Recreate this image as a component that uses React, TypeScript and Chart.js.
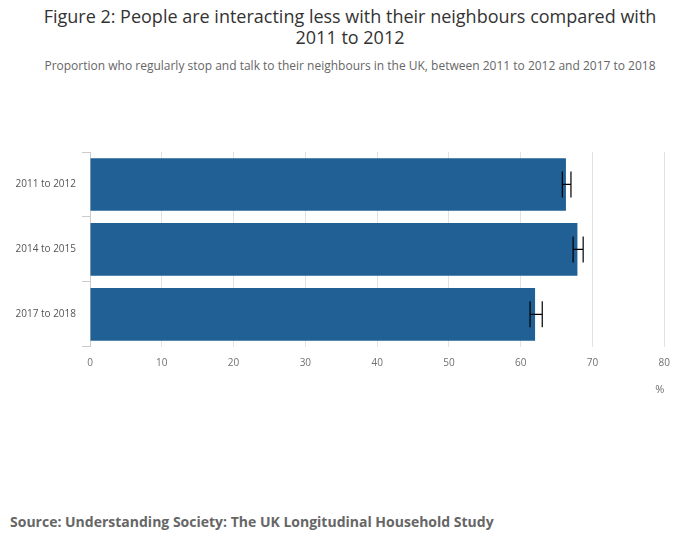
import React, { useEffect, useRef } from "react";
import { Chart, registerables } from "chart.js";
Chart.register(...registerables);

const categories = ["2011 to 2012", "2014 to 2015", "2017 to 2018"];
const values = [66.3, 67.9, 62.0];
const lower = [65.8, 67.3, 61.3];
const upper = [67.0, 68.7, 63.0];
const xTicks = [0, 10, 20, 30, 40, 50, 60, 70, 80];

const errorBars = {
  id: "errorBars",
  afterDatasetsDraw(chart: any) {
    const { ctx, scales } = chart;
    const x = scales.x, y = scales.y;
    ctx.save();
    ctx.strokeStyle = "#000";
    ctx.lineWidth = 1.2;
    categories.forEach((_, i) => {
      const cy = y.getPixelForValue(i);
      const x1 = x.getPixelForValue(lower[i]);
      const x2 = x.getPixelForValue(upper[i]);
      ctx.beginPath();
      ctx.moveTo(x1, cy); ctx.lineTo(x2, cy);
      ctx.moveTo(x1, cy - 13); ctx.lineTo(x1, cy + 13);
      ctx.moveTo(x2, cy - 13); ctx.lineTo(x2, cy + 13);
      ctx.stroke();
    });
    ctx.restore();
  },
};

export default function App() {
  const ref = useRef<HTMLCanvasElement>(null);
  useEffect(() => {
    const chart = new Chart(ref.current!, {
      type: "bar",
      data: {
        labels: categories,
        datasets: [{ data: values, backgroundColor: "#206095", barPercentage: 0.81, categoryPercentage: 1 }],
      },
      options: {
        animation: false,
        responsive: false,
        indexAxis: "y",
        layout: { padding: { top: 10, right: 15, left: 0, bottom: 0 } },
        plugins: { legend: { display: false }, tooltip: { enabled: false } },
        scales: {
          x: {
            min: 0, max: 80,
            afterBuildTicks: (s: any) => { s.ticks = xTicks.map((v) => ({ value: v })); },
            grid: { color: "#e2e2e2", drawTicks: false },
            border: { display: false },
            ticks: { color: "#707070", font: { family: "Open Sans", size: 10 }, padding: 10 },
            title: { display: true, text: "%", align: "end", color: "#707070", font: { family: "Open Sans", size: 11 }, padding: { top: 4 } },
          },
          y: {
            afterFit: (s: any) => { s.width = 90; },
            grid: { drawOnChartArea: false, color: "#ccc", tickLength: 8 },
            border: { color: "#ccc" },
            ticks: { color: "#555", font: { family: "Open Sans", size: 10 }, padding: 6 },
          },
        },
      },
      plugins: [errorBars],
    });
    return () => chart.destroy();
  }, []);
  return (
    <div style={{ position: "absolute", left: 0, top: 0, width: 700, height: 549, background: "#fff", fontFamily: "Open Sans" }}>
      <div style={{ position: "absolute", top: 6, left: 0, width: 700, textAlign: "center", fontSize: 18, lineHeight: "21px", color: "#333" }}>
        Figure 2: People are interacting less with their neighbours compared with<br />2011 to 2012
      </div>
      <div style={{ position: "absolute", top: 57, left: 0, width: 700, textAlign: "center", fontSize: 12, color: "#666" }}>
        Proportion who regularly stop and talk to their neighbours in the UK, between 2011 to 2012 and 2017 to 2018
      </div>
      <canvas ref={ref} width={680} height={260} style={{ position: "absolute", left: 0, top: 140 }} />
      <div style={{ position: "absolute", top: 512, left: 10, fontSize: 14, fontWeight: "bold", color: "#666" }}>
        Source: Understanding Society: The UK Longitudinal Household Study
      </div>
    </div>
  );
}
